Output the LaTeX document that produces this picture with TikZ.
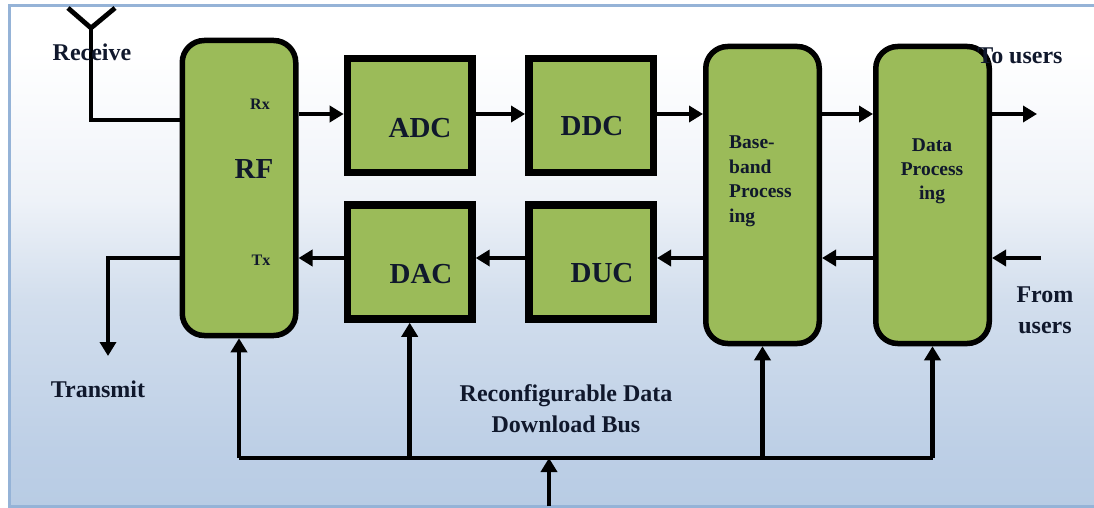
\documentclass[tikz,border=0pt]{standalone}
\usepackage{fontspec}
\setmainfont{Liberation Serif}
\usetikzlibrary{arrows.meta,calc}
\definecolor{boxgreen}{HTML}{9BBB59}
\definecolor{framec}{HTML}{95B3D7}
\definecolor{bgA}{HTML}{B8CCE4}
\definecolor{bgB}{HTML}{BDCFE6}
\definecolor{bgC}{HTML}{D2DEED}
\definecolor{bgD}{HTML}{EEF2F8}
\definecolor{bgE}{HTML}{FAFBFD}
\definecolor{labelc}{HTML}{10182C}
\pgfdeclareverticalshading{bgshade}{100bp}{
  color(0bp)=(bgA); color(25bp)=(bgA); color(30.6bp)=(bgB); color(45.6bp)=(bgC);
  color(55.6bp)=(bgD); color(65.6bp)=(bgE); color(70.6bp)=(white); color(100bp)=(white)}
\tikzset{
  x=1pt,y=-1pt,
  roundbox/.style={draw=black,fill=boxgreen,line width=5.5pt,rounded corners=22pt,inner sep=0pt,minimum width=113.5pt},
  squarebox/.style={draw=black,fill=boxgreen,line width=7.5pt,inner sep=0pt,minimum width=124.5pt,minimum height=114pt},
  wire/.style={draw=black,line width=4.8pt},
  flow/.style={wire,-{Triangle[length=14pt,width=16pt]}},
  txt/.style={text=labelc,font=\bfseries,inner sep=0pt,align=center}
}
\begin{document}
\begin{tikzpicture}
\useasboundingbox (0,0) rectangle (1094,508);
\fill[white] (0,0) rectangle (1094,508);
\begin{scope}
\clip (0,0) rectangle (1094,508);
\path[shading=bgshade,draw=framec,line width=3pt] (9,6) rectangle (1110,506);
\end{scope}

% blocks
\node[roundbox,minimum height=295pt] (rf) at (239,188) {};
\node[squarebox] (adc) at (409.7,115.5) {};
\node[squarebox] (ddc) at (591,115.5) {};
\node[squarebox] (dac) at (409.7,262) {};
\node[squarebox] (duc) at (591,262) {};
\node[roundbox,minimum height=297pt] (base) at (762.5,195) {};
\node[roundbox,minimum height=297pt] (data) at (932.5,195) {};

% free ends
\coordinate (antl) at (68,8);
\coordinate (antr) at (115,8);
\coordinate (antb) at (91,28);
\coordinate (rxc) at (91,120);
\coordinate (rowa) at (0,114);
\coordinate (rowb) at (0,258);
\coordinate (txc) at (108,258);
\coordinate (txend) at (108,356);
\coordinate (outend) at (1037,114);
\coordinate (instart) at (1041,258);
\coordinate (busl) at (239,458);
\coordinate (busr) at (932.5,458);
\coordinate (busin) at (549,506);

% receive path
\draw[wire,line join=miter] (antl) -- (antb) -- (antr);
\draw[wire] (antb) -- (rxc) -- (rxc -| rf.west);
\draw[flow] (rf.east |- rowa) -- (adc.west |- rowa);
\draw[flow] (adc.east |- rowa) -- (ddc.west |- rowa);
\draw[flow] (ddc.east |- rowa) -- (base.west |- rowa);
\draw[flow] (base.east |- rowa) -- (data.west |- rowa);
\draw[flow] (data.east |- rowa) -- (outend);

% transmit path
\draw[flow] (instart) -- (data.east |- rowb);
\draw[flow] (data.west |- rowb) -- (base.east |- rowb);
\draw[flow] (base.west |- rowb) -- (duc.east |- rowb);
\draw[flow] (duc.west |- rowb) -- (dac.east |- rowb);
\draw[flow] (dac.west |- rowb) -- (rf.east |- rowb);
\draw[flow] (rf.west |- txc) -- (txc) -- (txend);

% bus
\draw[wire] (busl) -- (busr);
\draw[flow] (busl) -- (rf.south);
\draw[flow] (busl -| dac.south) -- (dac.south);
\draw[flow] (busl -| base.south) -- (base.south);
\draw[flow] (busr) -- (data.south);
\draw[flow] (busin) -- (busin |- busl);

% labels
\node[txt,font=\bfseries\fontsize{24}{26}\selectfont] (lreceive) at (92,52) {Receive};
\node[txt,font=\bfseries\fontsize{16}{18}\selectfont] (lrx) at (260,104) {Rx};
\node[txt,font=\bfseries\fontsize{16}{18}\selectfont] (ltx) at (261,260) {Tx};
\node[txt,font=\bfseries\fontsize{29}{31}\selectfont] (lrf) at (254,169) {RF};
\node[txt,font=\bfseries\fontsize{29}{31}\selectfont] (ladc) at (420,128) {ADC};
\node[txt,font=\bfseries\fontsize{29}{31}\selectfont] (lddc) at (592,126) {DDC};
\node[txt,font=\bfseries\fontsize{29}{31}\selectfont] (ldac) at (421,274) {DAC};
\node[txt,font=\bfseries\fontsize{29}{31}\selectfont] (lduc) at (602,273) {DUC};
\node[txt,font=\bfseries\fontsize{19.5}{24.5}\selectfont,align=left,anchor=north west] (lbase) at (729,136) {Base-\\band\\Process\\ing};
\node[txt,font=\bfseries\fontsize{19.5}{24}\selectfont] (ldata) at (932,171) {Data\\Process\\ing};
\node[txt,font=\bfseries\fontsize{24}{26}\selectfont] (lto) at (1020,56) {To users};
\node[txt,font=\bfseries\fontsize{24}{31}\selectfont] (lfrom) at (1045,310) {From\\users};
\node[txt,font=\bfseries\fontsize{24}{26}\selectfont] (ltransmit) at (98,389) {Transmit};
\node[txt,font=\bfseries\fontsize{24}{31}\selectfont] (lbus) at (566,409) {Reconfigurable Data\\Download Bus};
\end{tikzpicture}
\end{document}
